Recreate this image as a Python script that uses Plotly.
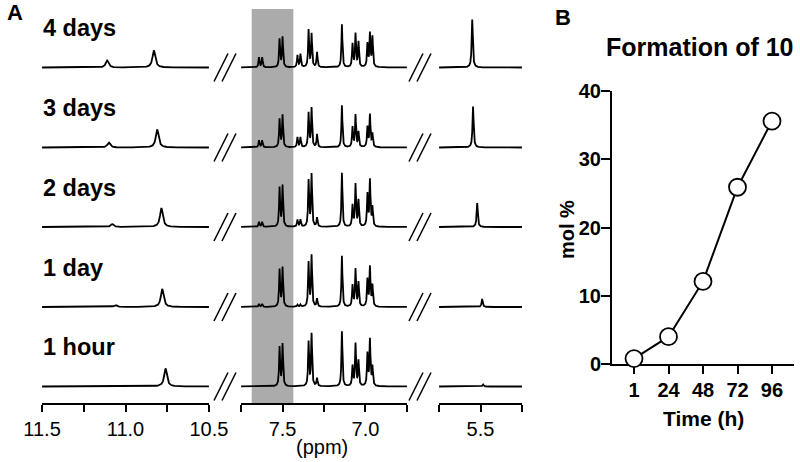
import numpy as np
import plotly.graph_objects as go

# ---------------- Panel A data (1H NMR) ----------------
spectrum_labels = ["1 hour", "1 day", "2 days", "3 days", "4 days"]
spectrum_offsets = [16.5, 96.0, 176.0, 255.5, 335.5]

# segment 1 (11.5 - 10.5 ppm): peak positions and heights per spectrum
seg1_pos = [[10.76], [11.06, 10.78], [11.08, 10.785], [11.10, 10.81], [11.11, 10.83]]
seg1_hgt = [[18], [2, 18], [3, 19], [5, 18], [7, 17]]

# segment 2 (7.75 - 6.75 ppm): line positions shared, heights per spectrum
seg2_pos = [7.642, 7.623, 7.518, 7.500, 7.410, 7.392, 7.343, 7.325, 7.292,
            7.142, 7.078, 7.060, 7.042, 6.988, 6.973, 6.958]
seg2_hgt = [
    [0, 0, 39, 42, 0, 0, 44, 52, 8, 55, 20, 42, 25, 32, 46, 19],
    [3, 3, 37, 39, 2, 2, 44, 51, 8, 51, 21, 37, 24, 27, 39, 21],
    [5, 5, 39, 41, 7, 7, 46, 52, 9, 54, 21, 42, 26, 32, 46, 19],
    [7, 7, 28, 32, 10, 10, 34, 39, 13, 42, 20, 32, 15, 20, 32, 13],
    [10, 10, 28, 30, 12, 13, 37, 33, 15, 43, 23, 33, 25, 23, 33, 30],
]

# segment 3 (5.75 - 5.25 ppm)
seg3_pos = [5.485, 5.49, 5.52, 5.545, 5.55]
seg3_hgt = [2, 8, 24, 41, 48]

# ---------------- Panel B data ----------------
time_labels = ["1", "24", "48", "72", "96"]
mol_percent = [0.8, 4.0, 12.1, 25.9, 35.6]

FONT = "Liberation Sans, Arial, Helvetica, sans-serif"
W, H = 800, 462


def px(x):
    return x / W


def py(y):
    return 1 - y / H


def lorentz(x, pos, hgt, w):
    y = np.zeros_like(x)
    for p, h in zip(pos, hgt):
        y += h / (1.0 + ((x - p) / w) ** 2)
    return y


x1 = np.linspace(11.5, 10.5, 2001)
x2 = np.linspace(7.75, 6.75, 2001)
x3 = np.linspace(5.75, 5.25, 1001)

fig = go.Figure()
for i, off in enumerate(spectrum_offsets):
    y1 = off + lorentz(x1, seg1_pos[i], seg1_hgt[i], 0.010)
    y2 = off + lorentz(x2, seg2_pos, seg2_hgt[i], 0.0035)
    y3 = off + lorentz(x3, [seg3_pos[i]], [seg3_hgt[i]], 0.004)
    line = dict(color="black", width=1.8)
    fig.add_trace(go.Scatter(x=x1, y=y1, mode="lines", line=line, xaxis="x", yaxis="y",
                             hoverinfo="skip", showlegend=False))
    fig.add_trace(go.Scatter(x=x2, y=y2, mode="lines", line=line, xaxis="x2", yaxis="y",
                             hoverinfo="skip", showlegend=False))
    fig.add_trace(go.Scatter(x=x3, y=y3, mode="lines", line=line, xaxis="x3", yaxis="y",
                             hoverinfo="skip", showlegend=False))
    fig.add_annotation(text="<b>%s</b>" % spectrum_labels[i], x=11.5, xref="x", xanchor="left",
                       y=off + 39.5, yref="y", yanchor="middle", showarrow=False, borderpad=0,
                       font=dict(family=FONT, size=23.5, color="black"))
    # axis-break marks
    for xa, xb in [(214, 228), (222, 236), (409, 423), (417, 431)]:
        fig.add_shape(type="line", xref="paper", yref="y", x0=px(xa), x1=px(xb),
                      y0=off - 14, y1=off + 14, line=dict(color="black", width=1.6))

# grey highlight band
fig.add_shape(type="rect", xref="x2", yref="y", x0=7.686, x1=7.435, y0=0, y1=394,
              fillcolor="#ababab", line=dict(width=0), layer="below")

# Panel B trace
fig.add_trace(go.Scatter(x=time_labels, y=mol_percent, mode="lines+markers",
                         xaxis="x4", yaxis="y2", cliponaxis=False, showlegend=False,
                         hoverinfo="skip",
                         line=dict(color="black", width=2),
                         marker=dict(size=17, color="white", line=dict(color="black", width=1.8))))

axA = dict(showline=True, linecolor="black", linewidth=2, ticks="outside", ticklen=7,
           tickwidth=2, tickcolor="black", showgrid=False, zeroline=False, anchor="y",
           automargin=False, tickfont=dict(family=FONT, size=20, color="black"))
fig.update_layout(
    template="none",
    width=W, height=H, margin=dict(l=0, r=0, t=0, b=0, pad=0), autosize=False,
    paper_bgcolor="white", plot_bgcolor="rgba(0,0,0,0)", showlegend=False,
    hovermode=False,
    xaxis=dict(domain=[px(42), px(209)], range=[11.5005, 10.4995],
               tickvals=[11.5, 11.25, 11.0, 10.75, 10.5],
               ticktext=["11.5", "", "11.0", "", "10.5"], **axA),
    xaxis2=dict(domain=[px(241), px(407)], range=[7.7505, 6.7495],
                tickvals=[7.75, 7.5, 7.25, 7.0, 6.75],
                ticktext=["", "7.5", "", "7.0", ""], **axA),
    xaxis3=dict(domain=[px(439), px(522)], range=[5.7505, 5.2495],
                tickvals=[5.75, 5.5, 5.25], ticktext=["", "5.5", ""], **axA),
    yaxis=dict(domain=[py(403), 1.0], range=[0, 403], visible=False, anchor="x",
               automargin=False),
    xaxis4=dict(domain=[px(612), px(794)], type="category", range=[-0.638, 4.638],
                anchor="y2", showline=True, linecolor="black", linewidth=2,
                ticks="outside", ticklen=8, tickwidth=2, tickcolor="black",
                ticklabelstandoff=-1,
                showgrid=False, zeroline=False, layer="below traces", automargin=False,
                tickfont=dict(family=FONT, size=20, color="black", weight="bold")),
    yaxis2=dict(domain=[py(364), py(91)], range=[0, 40], anchor="x4",
                tickvals=[0, 10, 20, 30, 40], showline=True, linecolor="black", linewidth=2,
                ticks="outside", ticklen=9, tickwidth=2, tickcolor="black",
                ticklabelstandoff=-4,
                showgrid=False, zeroline=False, layer="below traces", automargin=False,
                tickfont=dict(family=FONT, size=20, color="black", weight="bold")),
)


def txt(s, x, y, size, angle=0):
    fig.add_annotation(text=s, x=px(x), y=py(y), xref="paper", yref="paper",
                       xanchor="center", yanchor="middle", textangle=angle,
                       showarrow=False, font=dict(family=FONT, size=size, color="black"))


txt("(ppm)", 322, 447, 20)
txt("<b>A</b>", 15, 12, 22)
txt("<b>B</b>", 563, 17, 22)
txt("<b>Formation of 10</b>", 700, 47, 25)
txt("<b>mol %</b>", 567, 230, 20, -90)
txt("<b>Time (h)</b>", 703, 418, 21)

fig.write_html("out.html", config={"displayModeBar": False},
               post_script="document.body.style.margin='0px';")
